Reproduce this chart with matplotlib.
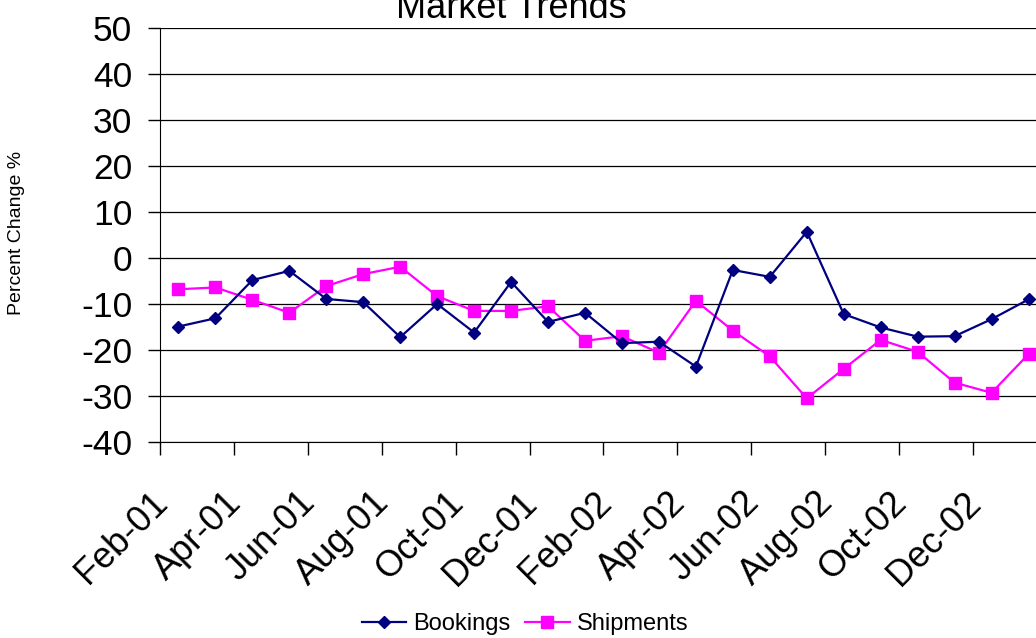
import matplotlib
matplotlib.use('Agg')
import matplotlib.pyplot as plt
import matplotlib.transforms as mtransforms
import numpy as np

months = ['Feb-01', 'Mar-01', 'Apr-01', 'May-01', 'Jun-01', 'Jul-01', 'Aug-01', 'Sep-01',
          'Oct-01', 'Nov-01', 'Dec-01', 'Jan-02', 'Feb-02', 'Mar-02', 'Apr-02', 'May-02',
          'Jun-02', 'Jul-02', 'Aug-02', 'Sep-02', 'Oct-02', 'Nov-02', 'Dec-02', 'Jan-03']
bookings = [-14.9, -13.1, -4.8, -2.8, -8.9, -9.6, -17.2, -10.0, -16.2, -5.2, -13.9, -11.9,
            -18.5, -18.2, -23.6, -2.6, -4.1, 5.7, -12.2, -15.1, -17.1, -17.0, -13.3, -9.0]
shipments = [-6.8, -6.4, -9.1, -11.9, -6.1, -3.5, -1.9, -8.3, -11.5, -11.5, -10.5, -18.0,
             -17.0, -20.6, -9.3, -15.8, -21.4, -30.5, -24.1, -17.8, -20.4, -27.1, -29.3, -20.9]
yticks = [-40, -30, -20, -10, 0, 10, 20, 30, 40, 50]

plt.rcParams['font.family'] = ['Liberation Sans', 'DejaVu Sans']
plt.rcParams['axes.unicode_minus'] = False

fig = plt.figure(figsize=(10.36, 6.38), dpi=100)
W, H = 1036, 638
# plot area runs past the right edge of the picture, like the original
ax = fig.add_axes([160 / W, 196 / H, 887 / W, 414 / H])

x = np.arange(len(months))
ax.plot(x, bookings, color='#000080', lw=1.6, marker='D', markersize=6.4,
        markeredgewidth=1, label='Bookings', clip_on=False, zorder=4)
ax.plot(x, shipments, color='#FF00FF', lw=1.6, marker='s', markersize=8.4,
        markeredgewidth=1, label='Shipments', clip_on=False, zorder=3)

ax.set_xlim(-0.5, len(months) - 0.5)
ax.set_ylim(-40, 50)
ax.set_yticks(yticks)
ax.yaxis.grid(True, color='black', lw=0.9)
ax.set_axisbelow(True)

# ticks on category boundaries every two months, labels on even months
ax.set_xticks(np.arange(-0.5, len(months), 2))
ax.set_xticklabels([])
ax.set_xticks(x[::2], minor=True)
ax.set_xticklabels(months[::2], minor=True, rotation=45, ha='right', va='center',
                   rotation_mode='anchor', fontsize=26)
ax.tick_params(axis='x', which='major', direction='out', length=9, width=1)
ax.tick_params(axis='x', which='minor', length=0, pad=40)
ax.tick_params(axis='y', direction='out', length=9, width=1, labelsize=25.5, pad=11)
offset = mtransforms.ScaledTranslation(-16 / 100, 0, fig.dpi_scale_trans)
for lbl in ax.get_xticklabels(minor=True):
    lbl.set_transform(lbl.get_transform() + offset)

for s in ['top', 'right']:
    ax.spines[s].set_visible(False)
ax.spines['left'].set_color('black')
ax.spines['bottom'].set_color('black')

fig.text(511 / W, 1 - 18 / H, 'Market Trends', ha='center', va='baseline', fontsize=26)
fig.text(17 / W, 1 - 233 / H, 'Percent Change %', rotation=90, ha='center', va='center',
         fontsize=14)

fig.legend(loc='center', bbox_to_anchor=(525 / W, 1 - 624 / H), ncol=2, frameon=False,
           fontsize=17, handlelength=1.9, handletextpad=0.3, columnspacing=0.6,
           borderpad=0)

fig.savefig('out.png', dpi=100)
